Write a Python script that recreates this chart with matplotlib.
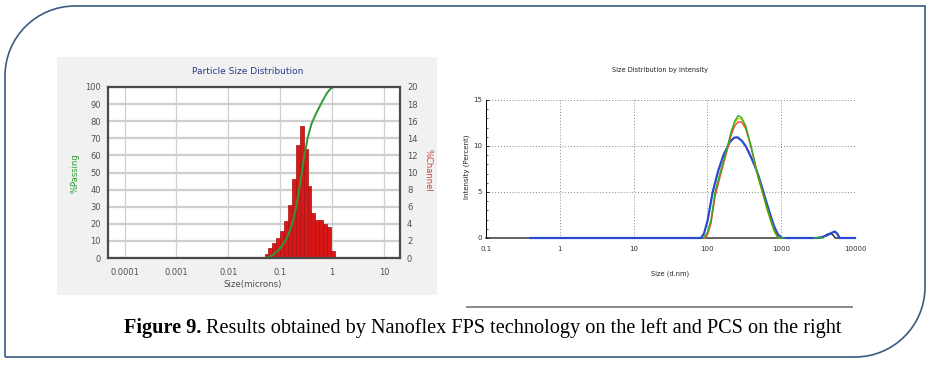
import numpy as np
import matplotlib
matplotlib.use("Agg")
import matplotlib.pyplot as plt
from matplotlib.path import Path
from matplotlib.patches import PathPatch, Rectangle
from matplotlib.ticker import FixedLocator, MultipleLocator, NullFormatter, NullLocator

# ---------------- Left chart data (Nanoflex FPS) ----------------
bin_edges_um = [0.0500, 0.0595, 0.0707, 0.0841, 0.1000, 0.1189, 0.1414, 0.1682, 0.2000,
                0.2378, 0.2828, 0.3364, 0.4000, 0.4757, 0.5657, 0.6727, 0.8000, 0.9514, 1.1314]
channel_pct = [0.47, 1.17, 1.75, 2.3, 3.2, 4.3, 6.2, 9.2, 13.2, 15.4, 12.7, 8.4, 5.3, 4.5,
               4.4, 4.0, 3.6, 0.8]
passing_size_um = [0.001, 0.0500, 0.0595, 0.0707, 0.0841, 0.1000, 0.1189, 0.1414, 0.1682,
                   0.2000, 0.2378, 0.2828, 0.3364, 0.4000, 0.4757, 0.5657, 0.6727, 0.8000,
                   0.9514, 1.1, 6.8]
passing_pct = [0, 0, 0.5, 1.6, 3.4, 5.7, 8.9, 13.2, 19.4, 28.6, 41.8, 57.2, 69.9, 78.3,
               83.6, 88.1, 92.5, 96.5, 99.3, 100, 100]
red_base_left_um = [0.00075, 0.001]
red_base_right_um = [1.1314, 7.0]
left_xticks = [0.0001, 0.001, 0.01, 0.1, 1, 10]
left_xticklabels = ["0.0001", "0.001", "0.01", "0.1", "1", "10"]
left_yticks = [0, 10, 20, 30, 40, 50, 60, 70, 80, 90, 100]
right_yticks = [0, 2, 4, 6, 8, 10, 12, 14, 16, 18, 20]

# ---------------- Right chart data (PCS, size distribution by intensity) ----------------
green_nm = [88, 100, 112, 127, 150, 170, 188, 210, 235, 260, 290, 330, 390, 440, 490, 560,
            630, 720, 800, 893, 1000, 1100]
green_val = [0, 0.6, 2.0, 5.0, 7.2, 8.7, 10.0, 11.6, 12.7, 13.3, 13.1, 12.2, 10.0, 8.2, 6.6,
             5.0, 3.5, 2.0, 0.9, 0.1, 0, 0]
green_tail_nm = [2800, 3300, 3700]
green_tail_val = [0, 0.05, 0]
red_nm = [92, 100, 112, 127, 150, 170, 188, 210, 235, 260, 290, 330, 390, 440, 490, 560, 630,
          720, 800, 893, 950]
red_val = [0, 0.3, 1.6, 4.5, 6.8, 8.4, 9.7, 11.2, 12.2, 12.6, 12.6, 11.9, 9.9, 8.2, 6.6, 5.0,
           3.5, 2.0, 0.9, 0.15, 0]
yellow_nm = [92, 100, 112, 127, 150, 170, 188, 210, 235, 260, 290, 330, 390, 440, 490, 560,
             630, 720, 800, 893, 950]
yellow_val = [0, 0.4, 1.8, 4.8, 7.1, 8.6, 9.9, 11.4, 12.5, 13.0, 12.9, 12.1, 9.9, 8.0, 6.4,
              4.8, 3.3, 1.8, 0.7, 0.1, 0]
blue_nm = [0.4, 82, 90, 100, 118, 140, 165, 200, 230, 255, 290, 330, 390, 440, 490, 560, 630,
           720, 800, 900, 1000, 1050, 3000, 3600, 4200, 4800, 5300, 5700, 6200, 10000]
blue_val = [0, 0, 0.5, 1.8, 5.0, 7.3, 9.0, 10.4, 10.9, 10.95, 10.6, 10.0, 8.8, 7.8, 6.8, 5.3,
            3.9, 2.4, 1.3, 0.4, 0.05, 0, 0, 0.1, 0.3, 0.55, 0.7, 0.5, 0, 0]
black_nm = [0.1, 3400, 3800, 4200, 4600, 5000, 5400, 10000]
black_val = [0, 0, 0.2, 0.4, 0.5, 0.35, 0, 0]
pcs_xticks = [0.1, 1, 10, 100, 1000, 10000]
pcs_xticklabels = ["0.1", "1", "10", "100", "1000", "10000"]
pcs_yticks = [0, 5, 10, 15]

caption_bold = "Figure 9."
caption_rest = "Results obtained by Nanoflex FPS technology on the left and PCS on the right"

# ---------------- Figure ----------------
W, H = 937, 365
fig = plt.figure(figsize=(W / 100, H / 100), dpi=100)
fig.patch.set_facecolor("white")

bg = fig.add_axes([0, 0, 1, 1], zorder=0)
bg.set_xlim(0, W)
bg.set_ylim(H, 0)
bg.axis("off")

# light panel behind left chart
bg.add_patch(Rectangle((57, 57), 380, 238, facecolor="#f1f1f1", edgecolor="none"))

# leaf-shaped frame
x0, y0, x1, y1, R, k = 5, 6, 925, 357, 70, 0.5523
verts = [(x0, y1), (x0, y0 + R),
         (x0, y0 + R - k * R), (x0 + R - k * R, y0), (x0 + R, y0),
         (x1, y0), (x1, y1 - R),
         (x1, y1 - R + k * R), (x1 - R + k * R, y1), (x1 - R, y1),
         (x0, y1)]
codes = [Path.MOVETO, Path.LINETO,
         Path.CURVE4, Path.CURVE4, Path.CURVE4,
         Path.LINETO, Path.LINETO,
         Path.CURVE4, Path.CURVE4, Path.CURVE4,
         Path.LINETO]
bg.add_patch(PathPatch(Path(verts, codes), facecolor="none", edgecolor="#3b5a80", lw=1.2))

# separator line above caption
bg.plot([467, 852], [307, 307], color="#8a8a8a", lw=1.4)

# caption
t1 = bg.text(124, 328, caption_bold, fontsize=14.6, fontweight="bold",
             family="Liberation Serif", ha="left", va="center")
fig.canvas.draw()
w1 = t1.get_window_extent(fig.canvas.get_renderer()).width
bg.text(124 + w1 + 4.5, 328, caption_rest, fontsize=14.6, family="Liberation Serif",
        ha="left", va="center")

# ---------------- Left chart ----------------
rect_l = [108 / W, 1 - 258 / H, 292 / W, 171 / H]
ah = fig.add_axes(rect_l, zorder=1)   # histogram + grid (right axis 0-20)
ap = fig.add_axes(rect_l, zorder=2)   # % passing (left axis 0-100)
xl = (10 ** -4.32, 10 ** 1.31)
for a in (ah, ap):
    a.set_xscale("log")
    a.set_xlim(*xl)
    a.xaxis.set_minor_locator(NullLocator())
ah.set_ylim(0, 20)
ap.set_ylim(0, 100)
ah.set_facecolor("white")
ap.patch.set_visible(False)

ah.set_xticks(left_xticks)
ah.set_xticklabels([])
ah.set_yticks(right_yticks)
ah.yaxis.tick_right()
ah.tick_params(axis="both", length=0, labelsize=6, labelcolor="#505050", pad=5)
ah.grid(axis="y", color="#cfcfcf", lw=1.6)
ah.grid(axis="x", color="#cfcfcf", lw=0.9)
ah.set_axisbelow(True)
for s in ah.spines.values():
    s.set_visible(False)

lefts = bin_edges_um[:-1]
widths = np.diff(bin_edges_um)
ah.bar(lefts, channel_pct, width=widths, align="edge", color="#d81818",
       edgecolor="#a81010", lw=0.5, zorder=2)
ah.plot(red_base_left_um, [0, 0], color="#d04040", lw=1.4, clip_on=False, zorder=3)
ah.plot(red_base_right_um, [0, 0], color="#d04040", lw=1.4, clip_on=False, zorder=3)

ap.plot(passing_size_um, passing_pct, color="#2e9a36", lw=1.4, clip_on=False)
ap.set_xticks(left_xticks)
ap.set_xticklabels(left_xticklabels)
ap.set_yticks(left_yticks)
ap.tick_params(axis="both", length=0, labelsize=6, labelcolor="#505050")
ap.tick_params(axis="y", pad=5)
ap.tick_params(axis="x", pad=7.5)
for s in ap.spines.values():
    s.set_color("#4a4a4a")
    s.set_linewidth(1.6)

fig.text(248 / W, 1 - 72 / H, "Particle Size Distribution", fontsize=6.5,
         color="#2b3a8a", ha="center", va="center")
fig.text(253 / W, 1 - 285 / H, "Size(microns)", fontsize=6.2, color="#505050",
         ha="center", va="center")
fig.text(75 / W, 1 - 173 / H, "%Passing", fontsize=6, color="#2e9a36", rotation=90,
         ha="center", va="center")
fig.text(428 / W, 1 - 170 / H, "%Channel", fontsize=6, color="#d04040", rotation=270,
         ha="center", va="center")

# ---------------- Right chart ----------------
bx = fig.add_axes([486 / W, 1 - 238 / H, 369 / W, 138 / H], zorder=2)
bx.set_xscale("log")
bx.set_xlim(0.1, 10000)
bx.set_ylim(0, 15)
bx.set_facecolor("white")
bx.set_xticks(pcs_xticks)
bx.set_xticklabels(pcs_xticklabels)
bx.xaxis.set_minor_locator(NullLocator())
bx.set_yticks(pcs_yticks)
bx.yaxis.set_minor_locator(MultipleLocator(1))
bx.tick_params(axis="both", which="major", length=2, width=0.6, labelsize=5,
               labelcolor="#333333", direction="in", pad=3)
bx.tick_params(axis="x", which="major", length=0, pad=6)
bx.tick_params(axis="y", which="minor", length=1.2, width=0.5, direction="in")
bx.grid(True, which="major", color="#888888", lw=0.7, ls=(0, (1, 2)))
for side in ("top", "right", "bottom"):
    bx.spines[side].set_visible(False)
bx.spines["left"].set_linewidth(0.7)

bx.plot(black_nm, black_val, color="#222222", lw=1.0, clip_on=False, zorder=3)
bx.plot(blue_nm, blue_val, color="#2a48d0", lw=1.6, clip_on=False, zorder=4)
bx.plot(yellow_nm, yellow_val, color="#e2c800", lw=1.0, clip_on=False, zorder=5)
bx.plot(red_nm, red_val, color="#ee4a3a", lw=1.0, clip_on=False, zorder=6)
bx.plot(green_nm, green_val, color="#28b028", lw=1.0, clip_on=False, zorder=7)
bx.plot(green_tail_nm, green_tail_val, color="#28b028", lw=1.0, clip_on=False, zorder=7)

fig.text(660 / W, 1 - 70 / H, "Size Distribution by Intensity", fontsize=4.8,
         color="#222222", ha="center", va="center")
fig.text(670 / W, 1 - 274 / H, "Size (d.nm)", fontsize=4.8, color="#222222",
         ha="center", va="center")
fig.text(467 / W, 1 - 167 / H, "Intensity (Percent)", fontsize=5, color="#222222",
         rotation=90, ha="center", va="center")

fig.savefig("out.png", dpi=100, facecolor="white")
